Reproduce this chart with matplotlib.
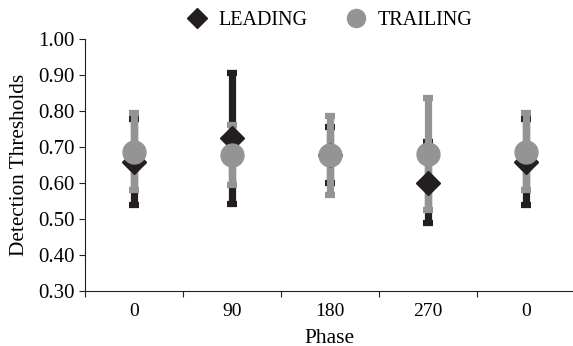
import matplotlib
matplotlib.use("Agg")
import matplotlib.pyplot as plt
from matplotlib.lines import Line2D
import numpy as np

plt.rcParams['font.family'] = ['Liberation Serif', 'DejaVu Serif']

phases = ["0", "90", "180", "270", "0"]
leading = [0.658, 0.723, 0.677, 0.600, 0.658]
leading_err = [0.119, 0.183, 0.077, 0.113, 0.119]
trailing = [0.686, 0.678, 0.676, 0.679, 0.686]
trailing_err = [0.107, 0.083, 0.110, 0.155, 0.107]

black = '#231f20'
grey = '#949494'

fig = plt.figure(figsize=(5.73, 3.46), dpi=100)
ax = fig.add_axes([0.1478, 0.1598, 0.8552, 0.7283])

x = np.arange(1, len(phases) + 1)

# error bars first, markers on top
ax.errorbar(x, leading, yerr=leading_err, fmt='none', ecolor=black,
            elinewidth=5.2, capsize=3.8, capthick=4.5, zorder=2)
ax.errorbar(x, trailing, yerr=trailing_err, fmt='none', ecolor=grey,
            elinewidth=5.2, capsize=3.5, capthick=4.5, zorder=3)
ax.plot(x, leading, 'D', color=black, ms=12, zorder=4, linestyle='none')
ax.plot(x, trailing, 'o', color=grey, ms=16.5, zorder=5, linestyle='none')

ax.set_xlim(0.5, len(phases) + 0.5)
ax.set_ylim(0.30, 1.00)
ax.set_yticks(np.arange(0.30, 1.001, 0.10))
ax.set_yticklabels(["%.2f" % v for v in np.arange(0.30, 1.001, 0.10)])
ax.set_xticks(x)
ax.set_xticklabels(phases)
ax.set_xticks(np.arange(0.5, len(phases) + 1, 1.0), minor=True)
ax.tick_params(axis='x', which='major', length=0, pad=9, labelsize=14)
ax.tick_params(axis='x', which='minor', length=4.5, width=0.8, direction='out', color=black)
ax.tick_params(axis='y', length=4, width=0.8, direction='out', labelsize=15, color=black)

for side in ['top', 'right']:
    ax.spines[side].set_visible(False)
for side in ['left', 'bottom']:
    ax.spines[side].set_linewidth(0.8)
    ax.spines[side].set_color(black)

ax.set_xlabel("Phase", fontsize=15.5, labelpad=6)
ax.set_ylabel("Detection Thresholds", fontsize=15.3, labelpad=6)

handles = [Line2D([], [], marker='D', color=black, ms=10, linestyle='none'),
           Line2D([], [], marker='o', color=grey, ms=13, linestyle='none')]
fig.legend(handles, ["LEADING", "TRAILING"], ncol=2, frameon=False,
           loc='center', bbox_to_anchor=(0.575, 0.94), fontsize=14.5,
           handletextpad=0.55, columnspacing=1.95, handlelength=1.0)

fig.savefig("out.png", dpi=100)
